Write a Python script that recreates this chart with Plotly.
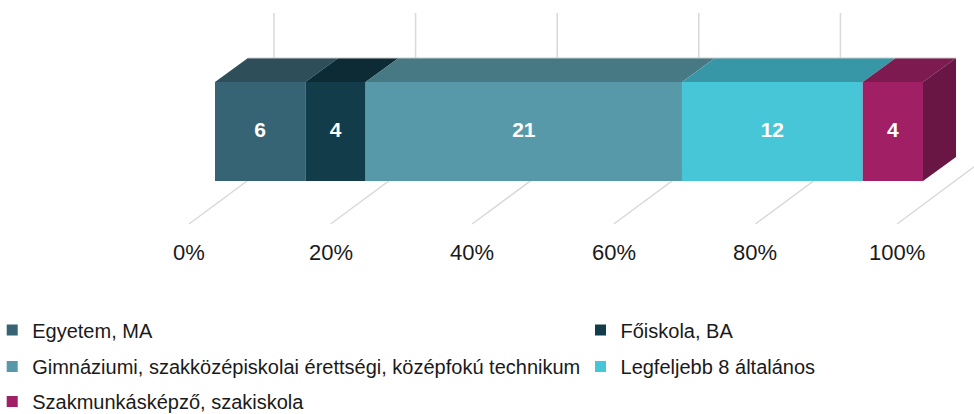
import plotly.graph_objects as go
import numpy as np

# ---- data ----
categories = ["Egyetem, MA", "Főiskola, BA",
              "Gimnáziumi, szakközépiskolai érettségi, középfokú technikum",
              "Legfeljebb 8 általános", "Szakmunkásképző, szakiskola"]
values = [6, 4, 21, 12, 4]
tick_values = [0, 20, 40, 60, 80, 100]
tick_labels = ["0%", "20%", "40%", "60%", "80%", "100%"]

front_colors = ["#376475", "#133c4a", "#5899a9", "#47c6d8", "#a01f65"]
top_colors = ["#2e4f5a", "#0c2b35", "#467984", "#3897a6", "#7d1a50"]
side_color = "#6a1644"

# ---- geometry (pixel based layout) ----
W, H = 974, 414
PX0, PXW = 215, 708          # front face left and width in px
S = PXW / 100.0              # px per percent
Y_TOP, Y_BOT = 82, 181
DXP, DYP = 33, 24            # depth offset in px
DX = DXP / S
FLOOR_FRONT_Y, FLOOR_BACK_Y = 224, 161
FLOOR_FRONT_DX = -26 / S
FLOOR_BACK_DX = 59 / S
WALL_TOP_Y = 13
FONT = "Liberation Sans, Arial"

total = sum(values)
cum = np.concatenate([[0], np.cumsum(values)]) / total * 100

fig = go.Figure()

grid_col = "#d9d9d9"
# floor lines and back wall lines
for t in tick_values:
    fig.add_trace(go.Scatter(
        x=[t + FLOOR_FRONT_DX, t + FLOOR_BACK_DX, t + FLOOR_BACK_DX],
        y=[FLOOR_FRONT_Y, FLOOR_BACK_Y, WALL_TOP_Y],
        mode="lines", line=dict(color=grid_col, width=1.5),
        hoverinfo="skip", showlegend=False))

# faces
for i in range(len(values)):
    x0, x1 = cum[i], cum[i + 1]
    fig.add_trace(go.Scatter(
        x=[x0, x1, x1, x0, x0], y=[Y_TOP, Y_TOP, Y_BOT, Y_BOT, Y_TOP],
        mode="lines", fill="toself", fillcolor=front_colors[i],
        line=dict(width=0, color=front_colors[i]),
        hoverinfo="skip", showlegend=False))
    fig.add_trace(go.Scatter(
        x=[x0, x1, x1 + DX, x0 + DX, x0],
        y=[Y_TOP, Y_TOP, Y_TOP - DYP, Y_TOP - DYP, Y_TOP],
        mode="lines", fill="toself", fillcolor=top_colors[i],
        line=dict(width=0, color=top_colors[i]),
        hoverinfo="skip", showlegend=False))

# right side face
xe = cum[-1]
fig.add_trace(go.Scatter(
    x=[xe, xe + DX, xe + DX, xe, xe],
    y=[Y_TOP, Y_TOP - DYP, Y_BOT - DYP, Y_BOT, Y_TOP],
    mode="lines", fill="toself", fillcolor=side_color,
    line=dict(width=0, color=side_color),
    hoverinfo="skip", showlegend=False))

# top edge highlight
fig.add_trace(go.Scatter(
    x=[DX, xe + DX], y=[Y_TOP - DYP, Y_TOP - DYP], mode="lines",
    line=dict(color="#c8c8c8", width=1), hoverinfo="skip", showlegend=False))

# data labels
mids = (cum[:-1] + cum[1:]) / 2
fig.add_trace(go.Scatter(
    x=mids, y=[(Y_TOP + Y_BOT) / 2] * len(values), mode="text",
    text=[str(v) for v in values],
    textfont=dict(family=FONT, size=21, color="white", weight="bold"),
    hoverinfo="skip", showlegend=False))

# axis labels
for t, lab in zip(tick_values, tick_labels):
    fig.add_annotation(x=t + FLOOR_FRONT_DX, y=252, text=lab, showarrow=False,
                       xanchor="center", yanchor="middle",
                       font=dict(family=FONT, size=22, color="#1a1a1a"))

# legend entries (one legend per cell: 2 columns x 3 rows)
legend_ids = ["legend", "legend2", "legend3", "legend4", "legend5"]
for i, c in enumerate(categories):
    fig.add_trace(go.Scatter(
        x=[None], y=[None], mode="markers", name=c,
        marker=dict(symbol="square", size=11, color=front_colors[i]),
        legend=legend_ids[i], showlegend=True))

leg_common = dict(orientation="h", xanchor="left", yanchor="middle",
                  font=dict(family=FONT, size=20, color="#1a1a1a"),
                  bgcolor="rgba(0,0,0,0)", itemclick=False, itemdoubleclick=False)
row_y = [330, 330, 366.5, 366.5, 401.5]
col_x = [-0.008, 0.596, -0.008, 0.596, -0.008]
fig.update_layout(**{
    lid: dict(x=col_x[i], y=1 - row_y[i] / H, **leg_common)
    for i, lid in enumerate(legend_ids)
})

fig.update_layout(
    width=W, height=H, margin=dict(l=0, r=0, t=0, b=0, autoexpand=False),
    paper_bgcolor="white", plot_bgcolor="white",
    xaxis=dict(range=[-PX0 / S, (W - PX0) / S], visible=False, fixedrange=True),
    yaxis=dict(range=[H, 0], visible=False, fixedrange=True),
    showlegend=True,
)

fig.write_html("out.html", config={"displayModeBar": False},
               post_script="document.body.style.margin='0';")
